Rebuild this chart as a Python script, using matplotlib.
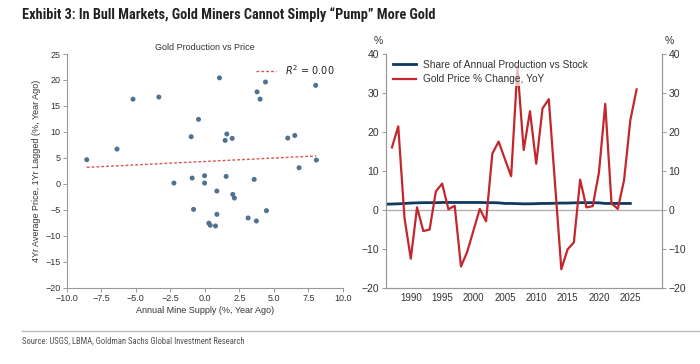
import matplotlib
matplotlib.use('Agg')
import matplotlib.pyplot as plt
from matplotlib import font_manager as fm
from matplotlib.lines import Line2D
import numpy as np

# ---------------- data ----------------
mine_supply = [-8.55, -6.36, -5.20, -3.33, -2.24, -0.99, -0.92, -0.46, -0.02, -0.02,
               0.87, 1.06, 1.47, 1.59, 1.54, 1.98, 2.02, 2.14, 3.57, 3.78,
               4.00, 4.39, 6.00, 6.51, 6.82, 8.02, 8.07, -0.82, 0.87, 0.29,
               0.39, 0.77, 3.13, 3.73, 4.46]
avg_price = [4.63, 6.68, 16.3, 16.7, 0.13, 9.06, 1.09, 12.4, 1.54, 0.13,
             -1.41, 20.4, 8.35, 9.58, 1.41, 8.74, -2.06, -2.76, 0.84, 17.7,
             16.3, 19.6, 8.8, 9.3, 3.08, 18.96, 4.56, -4.94, -5.9, -7.6,
             -8.0, -8.14, -6.6, -7.18, -5.19]

share_years = list(range(1986, 2026))
share_values = [1.40, 1.45, 1.50, 1.60, 1.70, 1.75, 1.80, 1.80, 1.80, 1.85,
                1.85, 1.85, 1.85, 1.85, 1.85, 1.85, 1.80, 1.80, 1.75, 1.60,
                1.60, 1.55, 1.50, 1.50, 1.55, 1.60, 1.60, 1.65, 1.70, 1.70,
                1.75, 1.80, 1.80, 1.80, 1.75, 1.60, 1.60, 1.60, 1.60, 1.60]

price_years = list(range(1987, 2027))
price_change = [16.0, 21.4, -2.2, -12.6, 0.6, -5.5, -5.1, 4.7, 6.7, 0.1,
                1.0, -14.6, -10.8, -5.3, 0.2, -3.0, 14.4, 17.5, 13.0, 8.6,
                36.5, 15.3, 25.3, 11.8, 26.0, 28.4, 6.5, -15.3, -10.2, -8.4,
                7.7, 0.6, 0.9, 9.6, 27.2, 1.6, 0.2, 7.6, 23.0, 30.9]

left_xticks = [-10.0, -7.5, -5.0, -2.5, 0.0, 2.5, 5.0, 7.5, 10.0]
left_yticks = [-20, -15, -10, -5, 0, 5, 10, 15, 20, 25]
right_xticks = [1990, 1995, 2000, 2005, 2010, 2015, 2020, 2025]
right_yticks = [-20, -10, 0, 10, 20, 30, 40]

title = "Exhibit 3: In Bull Markets, Gold Miners Cannot Simply \u201cPump\u201d More Gold"
source = "Source: USGS, LBMA, Goldman Sachs Global Investment Research"

# ---------------- fonts ----------------
avail = {f.name for f in fm.fontManager.ttflist}
def pick(*names):
    for n in names:
        if n in avail:
            return n
    return 'DejaVu Sans'
SANS = pick('Liberation Sans', 'Arial', 'DejaVu Sans')
NARROW = pick('Liberation Sans Narrow', 'DejaVu Sans Condensed', 'Roboto Condensed', SANS)
plt.rcParams['font.family'] = [SANS, 'DejaVu Sans']
plt.rcParams['axes.unicode_minus'] = True

W, H = 700, 364
fig = plt.figure(figsize=(7, 3.64), dpi=100)

def fx(px):
    return px / W
def fy(py):
    return 1 - py / H

TXT = '#333333'
SPINE = '#999999'

# ---------------- left scatter ----------------
ax1 = fig.add_axes([fx(66.7), fy(287.5), fx(343) - fx(66.7), fy(54) - fy(287.5)])
ax1.scatter(mine_supply, avg_price, s=13, color='#4d7292', edgecolors='none', zorder=3)
coef = np.polyfit(mine_supply, avg_price, 1)
xs = np.array([min(mine_supply), max(mine_supply)])
ax1.plot(xs, np.polyval(coef, xs), color='#d9534f', lw=1.0, ls=(0, (2, 1.5)),
         label=r'$R^2$ = 0.00', zorder=2)
ax1.set_xlim(-10, 10)
ax1.set_ylim(-20, 25)
ax1.set_xticks(left_xticks)
ax1.set_xticklabels([f"{v:.1f}".replace('-', '\u2212') for v in left_xticks])
ax1.set_yticks(left_yticks)
ax1.set_yticklabels([f"{v}".replace('-', '\u2212') for v in left_yticks])
for s in ['top', 'right']:
    ax1.spines[s].set_visible(False)
for s in ['left', 'bottom']:
    ax1.spines[s].set_color(SPINE)
    ax1.spines[s].set_linewidth(0.8)
ax1.tick_params(labelsize=6.5, labelcolor=TXT, color=SPINE, length=3, width=0.7, pad=1.5)
ax1.set_title('Gold Production vs Price', fontsize=6.5, color=TXT, pad=3)
ax1.set_xlabel('Annual Mine Supply (%, Year Ago)', fontsize=6.5, color=TXT, labelpad=2)
ax1.set_ylabel('4Yr Average Price, 1Yr Lagged (%, Year Ago)', fontsize=6.5, color=TXT, labelpad=3)
leg1 = ax1.legend(loc='upper right', bbox_to_anchor=(1.0, 1.0), frameon=False,
                  handlelength=2.0, handletextpad=0.9,
                  prop={'family': 'DejaVu Sans', 'size': 7})
for t in leg1.get_texts():
    t.set_color('#222222')

# ---------------- right lines ----------------
ax2 = fig.add_axes([fx(385.7), fy(287.5), fx(661.7) - fx(385.7), fy(54) - fy(287.5)])
ax2.axhline(0, color='#aaaaaa', lw=0.9, zorder=1)
ax2.plot(share_years, share_values, color='#0e3a60', lw=2.0, zorder=3,
         label='Share of Annual Production vs Stock')
ax2.plot(price_years, price_change, color='#c3262d', lw=1.6, zorder=4,
         label='Gold Price % Change, YoY')
ax2.set_xlim(1986, 2030)
ax2.set_ylim(-20, 40)
ax2.set_xticks(right_xticks)
ax2.set_yticks(right_yticks)
ax2.set_yticklabels([f"{v}".replace('-', '\u2212') for v in right_yticks])
ax2.spines['top'].set_visible(False)
for s in ['left', 'right', 'bottom']:
    ax2.spines[s].set_color(SPINE)
    ax2.spines[s].set_linewidth(0.8)
ax2.tick_params(axis='y', labelsize=7.5, labelcolor=TXT, color=SPINE, length=3, width=0.7, pad=2)
ax2.tick_params(axis='x', labelsize=7, labelcolor=TXT, length=0, pad=4)

ax2r = ax2.twinx()
ax2r.set_ylim(-20, 40)
ax2r.set_yticks(right_yticks)
ax2r.set_yticklabels([f"{v}".replace('-', '\u2212') for v in right_yticks])
ax2r.spines['top'].set_visible(False)
for s in ['left', 'right', 'bottom']:
    ax2r.spines[s].set_color(SPINE)
    ax2r.spines[s].set_linewidth(0.8)
ax2r.tick_params(axis='y', labelsize=7.5, labelcolor=TXT, color=SPINE, length=3, width=0.7, pad=2)

leg2 = ax2.legend(loc='upper left', bbox_to_anchor=(0.018, 0.985), borderaxespad=0,
                  borderpad=0.2, fontsize=7.3, handlelength=2.3, handletextpad=0.7,
                  labelspacing=0.45, frameon=True, facecolor='white', edgecolor='none',
                  framealpha=0.7)
for t in leg2.get_texts():
    t.set_color(TXT)
leg2.set_zorder(5)

fig.text(fx(378), fy(41), '%', fontsize=7.5, color=TXT, ha='center', va='center')
fig.text(fx(669), fy(41), '%', fontsize=7.5, color=TXT, ha='center', va='center')

# ---------------- title / source ----------------
fig.text(fx(22), fy(15), title, fontsize=10.3, fontweight='bold', family=[NARROW, 'DejaVu Sans'],
         color='#222222', ha='left', va='center')
fig.add_artist(Line2D([fx(22), 1.0], [fy(330.7), fy(330.7)], color='#bbbbbb', lw=1.0))
fig.text(fx(22), fy(341), source, fontsize=6.2, family=[NARROW, 'DejaVu Sans'],
         color='#555555', ha='left', va='center')

fig.savefig('out.png', dpi=100)
